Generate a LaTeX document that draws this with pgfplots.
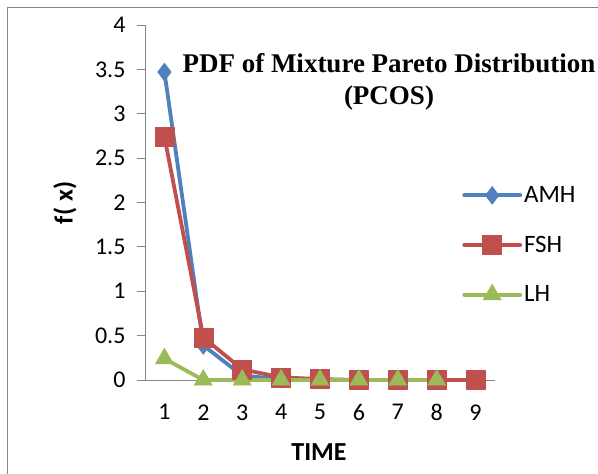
\documentclass[border=0pt]{standalone}
\usepackage{pgfplots}
\pgfplotsset{compat=1.18}
\usepackage{fontspec}
\setmainfont{Carlito}
\newfontfamily\titlefont{Liberation Serif}
\definecolor{amh}{HTML}{4F81BD}
\definecolor{fsh}{HTML}{C0504D}
\definecolor{lh}{HTML}{9BBB59}
\definecolor{axgray}{HTML}{868686}
\begin{document}
\begin{tikzpicture}[x=1pt,y=1pt]
\path[use as bounding box] (0,0) rectangle (598,474);
\draw[axgray, line width=0.8pt] (7,0) -- (7,467) -- (598,467);
\begin{axis}[
  at={(145pt,94pt)}, anchor=south west,
  scale only axis, width=350pt, height=355pt,
  xmin=0.5, xmax=9.5, ymin=0, ymax=4,
  axis x line*=bottom, axis y line*=left,
  axis line style={axgray, line width=0.8pt},
  xtick={1,...,9}, ytick={0,0.5,...,4},
  xtick style={draw=none},
  ytick style={axgray, line width=0.8pt},
  tick align=outside, major tick length=8pt,
  /pgf/number format/assume math mode=true,
  tick label style={font=\fontsize{24}{24}\selectfont},
  xticklabel style={yshift=-13pt},
  yticklabel style={xshift=-8pt},
  legend style={at={(rel axis cs:0.906,0.551)}, anchor=north west, draw=none, fill=none,
    font=\fontsize{25}{25}\selectfont, row sep=28pt, inner sep=0pt},
  legend cell align=left,
  legend image code/.code={\draw[mark repeat=2,mark phase=2] plot coordinates {(0pt,0pt)(28pt,0pt)(56pt,0pt)};},
  every axis plot/.append style={line width=3.8pt, line join=round, line cap=round},
  clip=false,
]
\addplot[color=amh, mark=diamond*, mark size=9pt, mark options={line width=0.5pt, fill=amh, draw=amh}]
  coordinates {(1,3.47)(2,0.39)(3,0.05)(4,0.01)(5,0)(6,0)(7,0)(8,0)};
\addlegendentry{AMH}
\addplot[color=fsh, mark=square*, mark size=9.5pt, mark options={line width=0.5pt, fill=fsh, draw=fsh}]
  coordinates {(1,2.74)(2,0.48)(3,0.12)(4,0.03)(5,0.01)(6,0)(7,0)(8,0)(9,0)};
\addlegendentry{FSH}
\addplot[color=lh, mark=triangle*, mark size=10.5pt, mark options={line width=0.5pt, fill=lh, draw=lh}]
  coordinates {(1,0.24)(2,0)(3,0)(4,0)(5,0)(6,0)(7,0)(8,0)};
\addlegendentry{LH}
\end{axis}
\node[font=\titlefont\bfseries\fontsize{27}{32}\selectfont, align=center] at (389,392) {PDF of Mixture Pareto Distribution\\(PCOS)};
\node[font=\bfseries\fontsize{26}{26}\selectfont, rotate=90] at (65,271) {f( x)};
\node[font=\bfseries\fontsize{26}{26}\selectfont] at (319,22) {TIME};
\end{tikzpicture}
\end{document}
